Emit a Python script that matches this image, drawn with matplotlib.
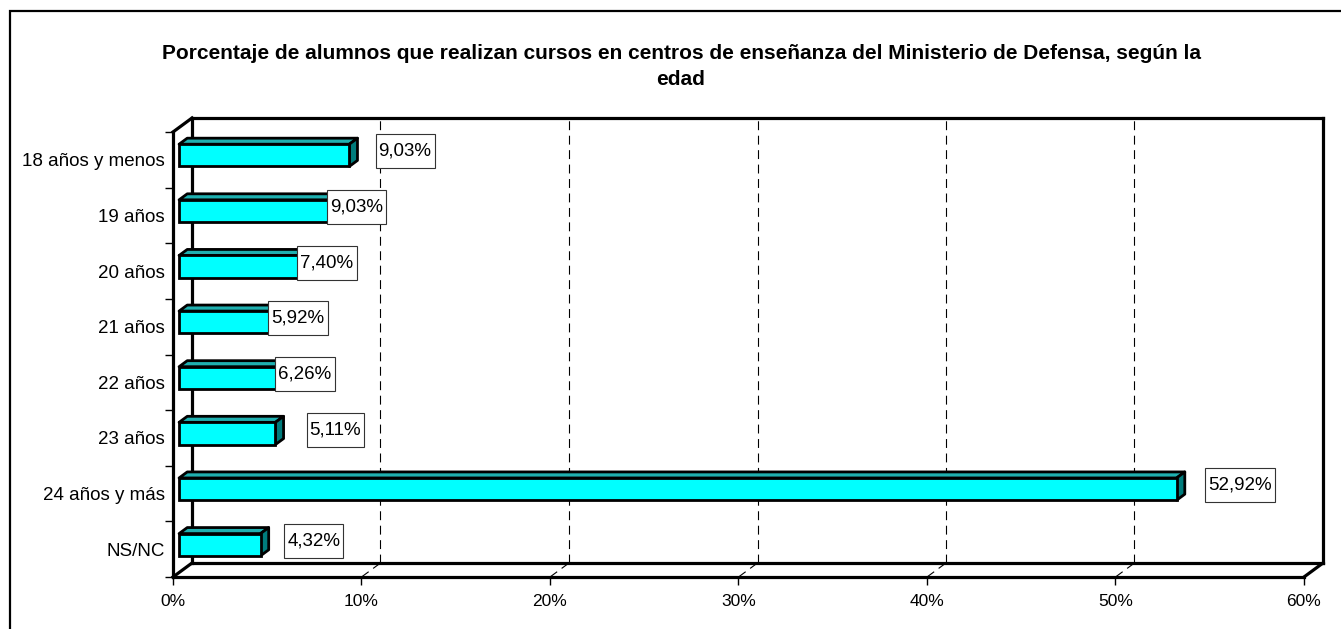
import matplotlib
matplotlib.use('Agg')
import matplotlib.pyplot as plt
from matplotlib.patches import Polygon, Rectangle

plt.rcParams['font.family'] = ['Liberation Sans', 'DejaVu Sans']

categories = ['18 años y menos', '19 años', '20 años', '21 años',
              '22 años', '23 años', '24 años y más', 'NS/NC']
values = [9.03, 9.03, 7.40, 5.92, 6.26, 5.11, 52.92, 4.32]
value_labels = ['9,03%', '9,03%', '7,40%', '5,92%', '6,26%', '5,11%', '52,92%', '4,32%']
x_ticks = [0, 10, 20, 30, 40, 50, 60]
x_tick_labels = ['0%', '10%', '20%', '30%', '40%', '50%', '60%']

# where Excel put the label boxes (left edge, relative to bar end, in %)
label_dx = [1.74, -0.81, -0.77, -0.83, -0.80, 2.0, 1.88, 1.62]

title = ('Porcentaje de alumnos que realizan cursos en centros de enseñanza del Ministerio de Defensa, según la\n'
         'edad')

W, H = 1341, 629
fig = plt.figure(figsize=(W / 100, H / 100), dpi=100)

# pixel layout of the 3d box
front_left, front_right = 173, 1304
back_right = 1323
floor_y, top_y, back_top = 577, 132, 118
s = (front_right - front_left) / 60.0
band = (floor_y - top_y) / len(categories)
DX = (back_right - front_right) / s
DY = (top_y - back_top) / band

ax = fig.add_axes([front_left / W, (H - floor_y) / H,
                   (back_right - front_left) / W, (floor_y - back_top) / H])
xmax = 60 + DX
ymin, ymax = -0.5 - DY, len(categories) - 0.5
ax.set_xlim(0, xmax)
ax.set_ylim(ymax, ymin)
for sp in ax.spines.values():
    sp.set_visible(False)

n = len(categories)
lw = 2.3

# walls
ax.plot([0, 0], [ymax, -0.5], color='black', lw=lw, clip_on=False)
ax.plot([DX, DX], [ymax - DY, ymin], color='black', lw=lw, clip_on=False)
ax.plot([0, DX], [-0.5, ymin], color='black', lw=lw, clip_on=False)
ax.plot([DX, xmax], [ymin, ymin], color='black', lw=lw, clip_on=False)
ax.plot([xmax, xmax], [ymin, ymax - DY], color='black', lw=lw, clip_on=False)
# floor
ax.plot([0, 60], [ymax, ymax], color='black', lw=lw, clip_on=False)
ax.plot([DX, xmax], [ymax - DY, ymax - DY], color='black', lw=lw, clip_on=False)
ax.plot([0, DX], [ymax, ymax - DY], color='black', lw=lw, clip_on=False)
ax.plot([60, xmax], [ymax, ymax - DY], color='black', lw=lw, clip_on=False)

# dashed gridlines on back wall and floor
for t in x_ticks[1:-1]:
    ax.plot([t + DX, t + DX], [ymax - DY, ymin], color='black', lw=0.8,
            ls=(0, (8, 5)), zorder=1)
    ax.plot([t, t + DX], [ymax, ymax - DY], color='black', lw=0.8,
            ls=(0, (8, 5)), zorder=1)

# bars
z0, z1 = 0.32, 0.75
h = 0.2
for i, v in enumerate(values):
    yt = i - h
    yb = i + h
    top = [(z0 * DX, yt - z0 * DY), (v + z0 * DX, yt - z0 * DY),
           (v + z1 * DX, yt - z1 * DY), (z1 * DX, yt - z1 * DY)]
    side = [(v + z0 * DX, yt - z0 * DY), (v + z0 * DX, yb - z0 * DY),
            (v + z1 * DX, yb - z1 * DY), (v + z1 * DX, yt - z1 * DY)]
    ax.add_patch(Polygon(top, closed=True, fc='#1FB0B0', ec='black', lw=2,
                         joinstyle='round', zorder=3))
    ax.add_patch(Polygon(side, closed=True, fc='#007C7C', ec='black', lw=2,
                         joinstyle='round', zorder=3))
ax.barh([i - z0 * DY for i in range(n)], values, height=2 * h, left=z0 * DX,
        color='#00FFFF', edgecolor='black', linewidth=2, zorder=4)

# value labels
label_texts = []
for i, v in enumerate(values):
    t = ax.text(v + label_dx[i] + 2.5 / s, i - 0.15, value_labels[i], fontsize=13.5,
                ha='left', va='center', zorder=7)
    label_texts.append(t)

# ticks
ax.set_xticks(x_ticks)
ax.set_xticklabels(x_tick_labels, fontsize=12.5)
ax.set_yticks([b - 0.5 for b in range(n + 1)])
ax.set_yticklabels([])
ax.set_yticks(range(n), minor=True)
ax.set_yticklabels(categories, minor=True, fontsize=13.5)
ax.tick_params(axis='x', direction='out', length=6, width=1, pad=6)
ax.tick_params(axis='y', which='major', direction='out', length=6, width=1)
ax.tick_params(axis='y', which='minor', length=0, pad=6)
ax.set_facecolor('none')

fig.text(681 / W, 1 - 66.5 / H, title, ha='center', va='center', fontsize=15,
         fontweight='bold', linespacing=1.45)

# outer chart frame (right and bottom edges fall outside the image)
fig.patches.append(Rectangle((10 / W, -0.1), 1.1, 1.1 - 11 / H,
                             transform=fig.transFigure, fill=False,
                             ec='black', lw=1.6))

# white boxes around the value labels, sized like Excel's (34 px tall)
fig.canvas.draw()
renderer = fig.canvas.get_renderer()
inv = fig.transFigure.inverted()
for t in label_texts:
    bb = t.get_window_extent(renderer)
    cy = (bb.y0 + bb.y1) / 2
    x0, y0 = inv.transform((bb.x0 - 3, cy - 17))
    x1, y1 = inv.transform((bb.x1 + 3, cy + 17))
    box = Rectangle((x0, y0), x1 - x0, y1 - y0, transform=fig.transFigure,
                    fc='white', ec='#333333', lw=0.8, zorder=6)
    ax.add_artist(box)
    box.set_clip_on(False)

fig.savefig('out.png', dpi=100)
